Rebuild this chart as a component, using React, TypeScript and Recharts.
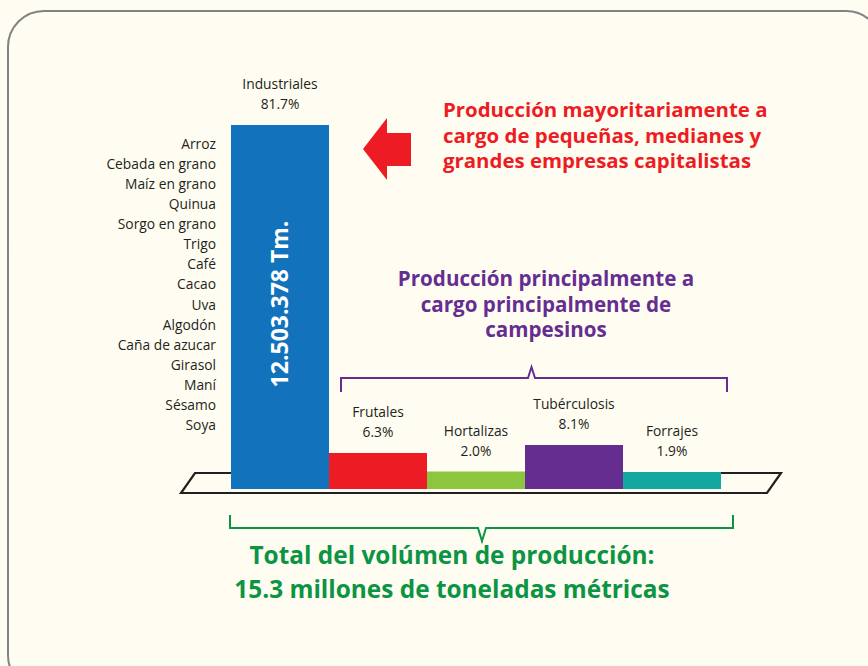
import React from 'react';
import { BarChart, Bar, XAxis, YAxis, Cell, LabelList } from 'recharts';

// share of total production volume, in %
const categories = ['Industriales', 'Frutales', 'Hortalizas', 'Tubérculosis', 'Forrajes'];
const shares = [81.7, 6.3, 2.0, 8.1, 1.9];
const barColors = ['#1273bc', '#ed1c24', '#8cc63f', '#662d91', '#12a89d'];

const industrialCrops = [
  'Arroz',
  'Cebada en grano',
  'Maíz en grano',
  'Quinua',
  'Sorgo en grano',
  'Trigo',
  'Café',
  'Cacao',
  'Uva',
  'Algodón',
  'Caña de azucar',
  'Girasol',
  'Maní',
  'Sésamo',
  'Soya',
];
const industrialVolume = '12.503.378 Tm.';

const redNote = ['Producción mayoritariamente a', 'cargo de pequeñas, medianes y', 'grandes empresas capitalistas'];
const purpleNote = ['Producción principalmente a', 'cargo principalmente de', 'campesinos'];
const greenNote = ['Total del volúmen de producción:', '15.3 millones de toneladas métricas'];

const data = categories.map((name, i) => ({ name, share: shares[i] }));

// bars sink a little below zero so they sit inside the platform
const FLOOR = -2;

const W = 868;
const H = 666;
const FONT = '"Open Sans", sans-serif';
const INK = '#231f20';

const BarLabel = (props: any) => {
  const { x, y, width, height, index } = props;
  const cx = x + width / 2;
  return (
    <g>
      <text x={cx} y={y - 36} textAnchor="middle" fontFamily={FONT} fontSize={13.8} fill={INK}>
        {categories[index]}
      </text>
      <text x={cx} y={y - 16} textAnchor="middle" fontFamily={FONT} fontSize={13.8} fill={INK}>
        {shares[index].toFixed(1)}%
      </text>
      {index === 0 && (
        <text
          transform={`translate(${cx + 8}, ${y + height / 2 - 3}) rotate(-90)`}
          textAnchor="middle"
          fontFamily={FONT}
          fontWeight={700}
          fontSize={23}
          fill="#ffffff"
        >
          {industrialVolume}
        </text>
      )}
    </g>
  );
};

const Backdrop = () => (
  <svg width={W} height={H} style={{ position: 'absolute', left: 0, top: 0 }}>
    <rect x={0} y={0} width={W} height={H} fill="#fffdf1" />
    <rect x={8} y={11} width={874} height={680} rx={36} fill="#fffdf1" stroke="#828282" strokeWidth={2} />

    {/* platform */}
    <polygon points="195,473 781,473 767,493 181,493" fill="none" stroke={INK} strokeWidth={2.2} />

    {/* arrow */}
    <polygon points="363,149 387,118 387,133 411,133 411,166 387,166 387,180" fill="#ed1c24" />

    {/* purple bracket */}
    <path d="M341,392 V378 H528 L531.5,367 L535,378 H727 V392" fill="none" stroke="#662d91" strokeWidth={2} />

    {/* green bracket */}
    <path d="M230,515 V528 H478 L482,541 L486,528 H733 V515" fill="none" stroke="#0b9444" strokeWidth={2} />

    {industrialCrops.map((c, i) => (
      <text key={c} x={216} y={149 + i * 20.07} textAnchor="end" fontFamily={FONT} fontSize={13.8} fill={INK}>
        {c}
      </text>
    ))}

    {redNote.map((t, i) => (
      <text key={t} x={443} y={117 + i * 25.7} fontFamily={FONT} fontWeight={700} fontSize={20.4} fill="#ed1c24">
        {t}
      </text>
    ))}

    {purpleNote.map((t, i) => (
      <text key={t} x={546} y={286 + i * 25.5} textAnchor="middle" fontFamily={FONT} fontWeight={700} fontSize={20.6} fill="#662d91">
        {t}
      </text>
    ))}

    {greenNote.map((t, i) => (
      <text key={t} x={452} y={564 + i * 34} textAnchor="middle" fontFamily={FONT} fontWeight={700} fontSize={24.4} fill="#0b9444">
        {t}
      </text>
    ))}
  </svg>
);

export default function App() {
  return (
    <div style={{ position: 'absolute', left: 0, top: 0, width: W, height: H, overflow: 'hidden' }}>
      <Backdrop />
      <div style={{ position: 'absolute', left: 0, top: 0 }}>
        <BarChart
          width={W}
          height={H}
          data={data}
          margin={{ top: 125, right: W - 721, bottom: H - 489, left: 231 }}
          barCategoryGap={0}
          barGap={0}
        >
          <XAxis dataKey="name" hide />
          <YAxis type="number" domain={[FLOOR, 81.7]} hide allowDataOverflow />
          <Bar dataKey={(d: any) => [FLOOR, d.share]} isAnimationActive={false}>
            {data.map((d, i) => (
              <Cell key={d.name} fill={barColors[i]} />
            ))}
            <LabelList content={<BarLabel />} />
          </Bar>
        </BarChart>
      </div>
    </div>
  );
}
